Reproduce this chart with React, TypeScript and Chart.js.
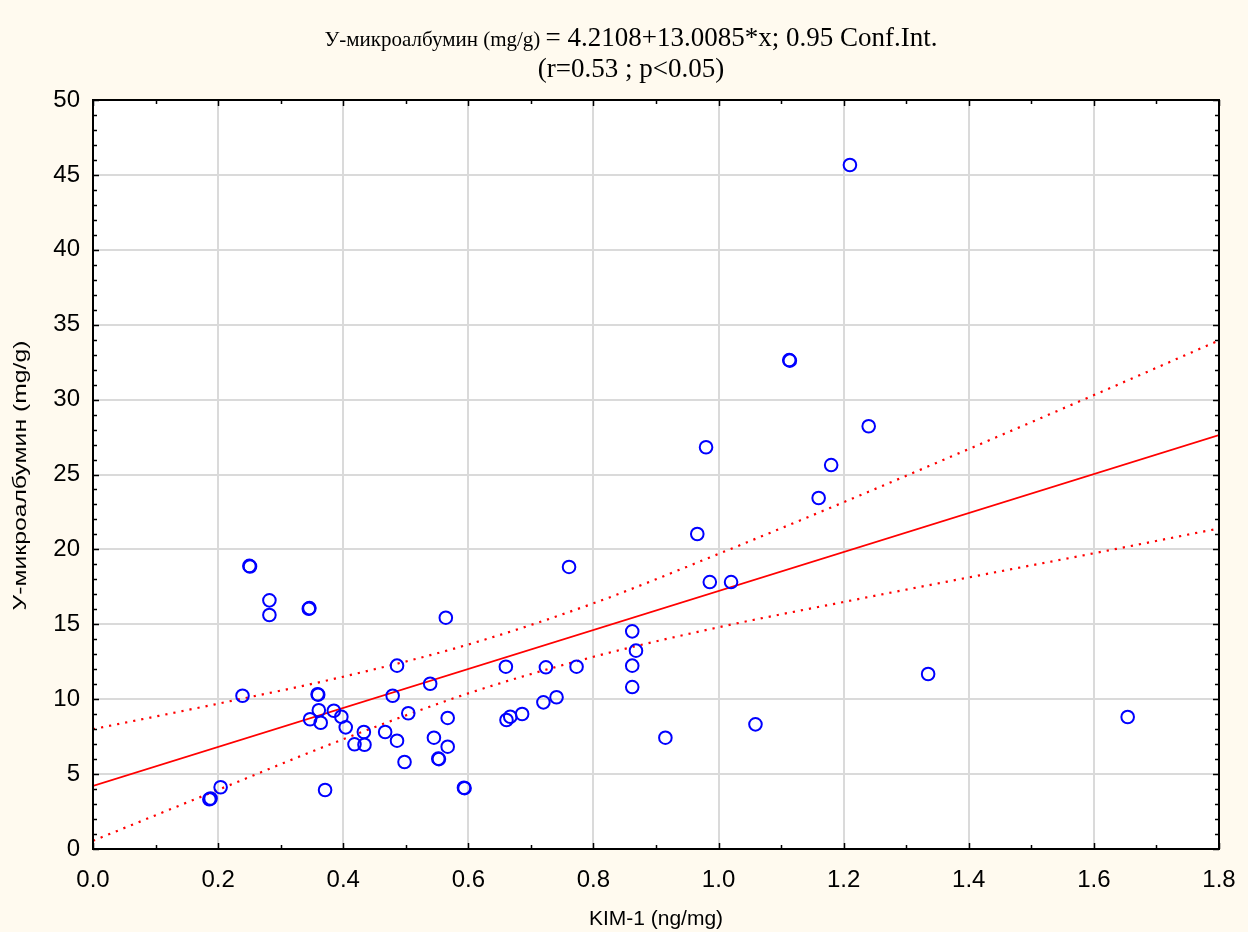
import { useEffect, useRef } from "react";
import { Chart, registerables } from "chart.js";

Chart.register(...registerables);

// ---- data ----
const kimValues = [
  0.186, 0.188, 0.204, 0.239, 0.25, 0.251, 0.282, 0.282, 0.345, 0.346,
  0.359, 0.36, 0.347, 0.361, 0.364, 0.385, 0.397, 0.404, 0.371, 0.418,
  0.433, 0.434, 0.467, 0.486, 0.498, 0.486, 0.479, 0.504, 0.539, 0.545,
  0.552, 0.553, 0.564, 0.567, 0.567, 0.593, 0.594, 0.66, 0.661, 0.667,
  0.686, 0.72, 0.724, 0.741, 0.761, 0.773, 0.862, 0.868, 0.862, 0.862,
  0.915, 0.966, 0.98, 0.986, 1.02, 1.059, 1.113, 1.114, 1.16, 1.18,
  1.21, 1.24, 1.335, 1.654,
];
const albuminValues = [
  3.32, 3.37, 4.12, 10.23, 18.9, 18.86, 16.6, 15.62, 16.04, 16.08,
  10.33, 10.3, 8.66, 9.26, 8.43, 9.23, 8.83, 8.12, 3.94, 6.99,
  7.81, 6.96, 7.81, 7.23, 5.81, 12.24, 10.23, 9.06, 11.03, 7.43,
  6.03, 6.0, 15.44, 8.75, 6.83, 4.09, 4.06, 12.17, 8.61, 8.83,
  9.01, 9.79, 12.13, 10.13, 18.83, 12.17, 14.53, 13.24, 12.24, 10.81,
  7.43, 21.03, 26.82, 17.82, 17.82, 8.32, 32.64, 32.6, 23.43, 25.63,
  45.66, 28.22, 11.68, 8.81,
];

const fitX = [0, 1.8];
const fitY = [4.21, 27.63];

// 0.95 confidence band, read at these x positions
const bandX = [0, 0.2, 0.4, 0.6, 0.8, 1.0, 1.2, 1.4, 1.6, 1.8];
const bandUpper = [8.0, 9.7, 11.5, 13.65, 16.4, 19.7, 23.15, 26.7, 30.3, 33.95];
const bandLower = [0.55, 3.95, 7.33, 10.39, 12.83, 14.8, 16.49, 18.13, 19.74, 21.4];

const xTicks = [0, 0.2, 0.4, 0.6, 0.8, 1.0, 1.2, 1.4, 1.6, 1.8];
const yTicks = [0, 5, 10, 15, 20, 25, 30, 35, 40, 45, 50];

const titleLine1a = "У-микроалбумин (mg/g) ";
const titleLine1b = "= 4.2108+13.0085*x; 0.95 Conf.Int.";
const titleLine2 = "(r=0.53 ; p<0.05)";
const xAxisTitle = "KIM-1 (ng/mg)";
const yAxisTitle = "У-микроалбумин (mg/g)";

const W = 1248;
const H = 932;
const SERIF = "'Liberation Serif', 'Times New Roman', serif";
const SANS = "'Liberation Sans', Arial, sans-serif";

const framePlugin = {
  id: "frame",
  beforeDraw(chart: any) {
    const { ctx, chartArea: a } = chart;
    ctx.save();
    ctx.fillStyle = "#fffaef";
    ctx.fillRect(0, 0, chart.width, chart.height);
    ctx.fillStyle = "#ffffff";
    ctx.fillRect(a.left, a.top, a.right - a.left, a.bottom - a.top);
    ctx.restore();
  },
  afterDraw(chart: any) {
    const { ctx, chartArea: a, scales } = chart;
    const xs = scales.x;
    const ys = scales.y;
    ctx.save();
    ctx.strokeStyle = "#000000";
    // minor + major ticks, inside on all four sides
    ctx.lineWidth = 1.5;
    for (let i = 0; i <= 50; i++) {
      const py = Math.round(ys.getPixelForValue(i)) + 0.5;
      const len = i % 5 === 0 ? 6 : 4;
      ctx.beginPath();
      ctx.moveTo(a.left, py);
      ctx.lineTo(a.left + len, py);
      ctx.moveTo(a.right, py);
      ctx.lineTo(a.right - len, py);
      ctx.stroke();
    }
    for (let i = 0; i <= 18; i++) {
      const px = Math.round(xs.getPixelForValue(i / 10)) + 0.5;
      const len = i % 2 === 0 ? 6 : 4;
      ctx.beginPath();
      ctx.moveTo(px, a.bottom);
      ctx.lineTo(px, a.bottom - len);
      ctx.moveTo(px, a.top);
      ctx.lineTo(px, a.top + len);
      ctx.stroke();
    }
    // frame
    ctx.lineWidth = 2;
    ctx.strokeRect(a.left, a.top, a.right - a.left, a.bottom - a.top);

    // title (two font sizes on the first line, as in the reference)
    ctx.fillStyle = "#000000";
    ctx.textBaseline = "alphabetic";
    ctx.textAlign = "left";
    const fA = `21px ${SERIF}`;
    const fB = `27px ${SERIF}`;
    ctx.font = fA;
    const wA = ctx.measureText(titleLine1a).width;
    ctx.font = fB;
    const wB = ctx.measureText(titleLine1b).width;
    const cx = 631;
    const x0 = cx - (wA + wB) / 2;
    ctx.font = fA;
    ctx.fillText(titleLine1a, x0, 46);
    ctx.font = fB;
    ctx.fillText(titleLine1b, x0 + wA, 46);
    ctx.textAlign = "center";
    ctx.fillText(titleLine2, cx, 77);

    // y-axis title: stretched along its length like the reference
    ctx.font = `18px ${SANS}`;
    const wy = ctx.measureText(yAxisTitle).width;
    const targetLen = 270;
    ctx.translate(21, (a.top + a.bottom) / 2 + 1);
    ctx.rotate(-Math.PI / 2);
    ctx.scale(targetLen / wy, 1);
    ctx.textAlign = "center";
    ctx.textBaseline = "middle";
    ctx.fillText(yAxisTitle, 0, 0);
    ctx.restore();
  },
};

export default function App() {
  const ref = useRef<HTMLCanvasElement | null>(null);

  useEffect(() => {
    if (!ref.current) return;
    const points = kimValues.map((x, i) => ({ x, y: albuminValues[i] }));
    const fit = fitX.map((x, i) => ({ x, y: fitY[i] }));
    const upper = bandX.map((x, i) => ({ x, y: bandUpper[i] }));
    const lower = bandX.map((x, i) => ({ x, y: bandLower[i] }));

    const chart = new Chart(ref.current, {
      type: "scatter",
      data: {
        datasets: [
          {
            label: "points",
            data: points,
            showLine: false,
            pointStyle: "circle",
            pointRadius: 6.3,
            pointBorderWidth: 2,
            borderColor: "#0000ff",
            backgroundColor: "rgba(0,0,0,0)",
            order: 0,
          },
          {
            label: "fit",
            data: fit,
            showLine: true,
            borderColor: "#ff0000",
            borderWidth: 1.8,
            pointRadius: 0,
            order: 1,
          },
          {
            label: "upper",
            data: upper,
            showLine: true,
            borderColor: "#ff0000",
            borderWidth: 2.2,
            borderDash: [2.2, 6],
            cubicInterpolationMode: "monotone",
            pointRadius: 0,
            order: 2,
          },
          {
            label: "lower",
            data: lower,
            showLine: true,
            borderColor: "#ff0000",
            borderWidth: 2.2,
            borderDash: [2.2, 6],
            cubicInterpolationMode: "monotone",
            pointRadius: 0,
            order: 3,
          },
        ],
      },
      options: {
        responsive: false,
        animation: false,
        layout: { padding: { left: 0, top: 100, right: 29, bottom: 0 } },
        plugins: {
          legend: { display: false },
          tooltip: { enabled: false },
          title: { display: false },
        },
        scales: {
          x: {
            type: "linear",
            min: 0,
            max: 1.8,
            afterFit: (s: any) => {
              s.height = 83;
              s.paddingLeft = 0;
              s.paddingRight = 0;
            },
            afterBuildTicks: (s: any) => {
              s.ticks = xTicks.map((v) => ({ value: v }));
            },
            ticks: {
              color: "#000000",
              padding: 17,
              font: { family: SANS, size: 24 },
              callback: (v: any) => Number(v).toFixed(1),
            },
            grid: { color: "#dadada", lineWidth: 2, drawTicks: false },
            border: { display: false },
            title: {
              display: true,
              text: xAxisTitle,
              color: "#000000",
              font: { family: SANS, size: 21 },
              padding: { top: 2, bottom: 0 },
            },
          },
          y: {
            type: "linear",
            min: 0,
            max: 50,
            afterFit: (s: any) => {
              s.width = 93;
              s.paddingTop = 0;
              s.paddingBottom = 0;
            },
            afterBuildTicks: (s: any) => {
              s.ticks = yTicks.map((v) => ({ value: v }));
            },
            ticks: {
              color: "#000000",
              padding: 13,
              font: { family: SANS, size: 24 },
            },
            grid: { color: "#dadada", lineWidth: 2, drawTicks: false },
            border: { display: false },
            title: { display: false },
          },
        },
      },
      plugins: [framePlugin],
    });
    return () => chart.destroy();
  }, []);

  return (
    <div style={{ position: "absolute", left: 0, top: 0, width: W, height: H, background: "#fffaef" }}>
      <canvas ref={ref} width={W} height={H} style={{ display: "block", width: W, height: H }} />
    </div>
  );
}
